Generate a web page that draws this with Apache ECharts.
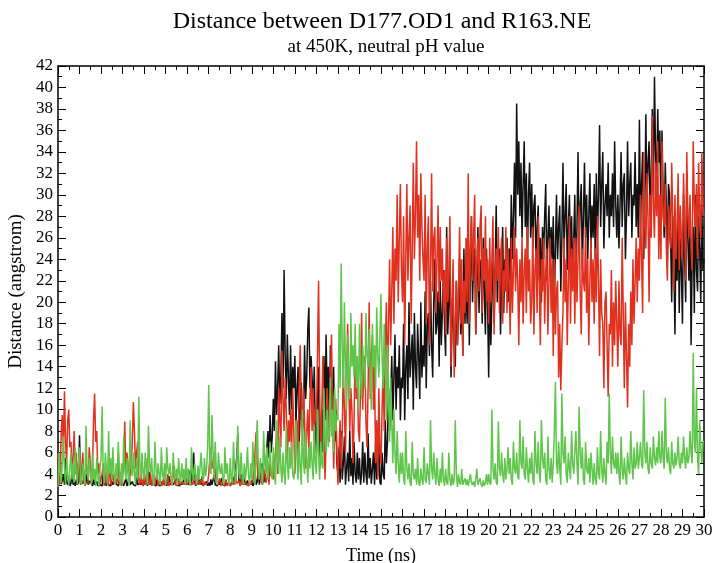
<!DOCTYPE html>
<html>
<head>
<meta charset="utf-8">
<script src="https://cdn.jsdelivr.net/npm/echarts@6/dist/echarts.min.js"></script>
<style>html,body{margin:0;padding:0;background:#fff}#c{width:712px;height:563px}</style>
</head>
<body>
<div id="c"></div>
<script>
const titleText = "Distance between D177.OD1 and R163.NE";
const subtitleText = "at 450K, neutral pH value";
const xName = "Time (ns)";
const yName = "Distance (angstrom)";
const seriesNames = ["s0", "s1", "s2"];

// one row per nanosecond (samples evenly spread across that ns), last value at t = 30
const blackRows = [
[3.0,4.5,5.8,3.1,3.4,4.0,3.0,5.5,3.2,3.0,3.6,2.9,3.1,4.2,3.0,3.3,2.9,3.5,3.0,3.2],
[7.6,3.0,3.4,3.1,3.5,2.9,3.2,4.0,3.0,2.9,3.4,3.1,2.9,3.6,3.0,3.1,3.3,2.9,3.5,3.0],
[3.1,2.9,4.6,3.0,3.2,2.9,3.8,3.0,3.1,2.9,3.3,3.0,2.9,3.5,3.1,3.0,2.9,3.4,3.0,2.9],
[3.2,2.9,3.0,3.6,2.9,3.1,4.0,3.0,2.9,3.3,3.0,3.1,2.9,3.7,3.0,2.9,3.2,3.0,3.4,2.9],
[3.1,3.0,3.5,2.9,3.2,4.2,3.0,2.9,3.4,3.0,3.1,2.9,3.6,3.0,3.1,2.9,3.3,3.0,2.9,3.2],
[3.5,2.9,3.0,3.8,3.0,2.9,3.2,3.0,2.9,3.4,4.0,3.0,3.1,2.9,3.3,3.0,2.9,3.5,3.0,2.9],
[3.6,3.0,2.9,4.4,3.0,3.1,6.0,3.2,2.9,3.4,3.0,2.9,3.5,3.0,3.8,2.9,3.1,3.0,3.3,2.9],
[3.2,2.9,3.5,3.0,2.9,3.9,3.0,3.1,2.9,3.3,3.0,2.9,3.6,3.0,3.1,2.9,3.4,3.0,2.9,3.2],
[2.9,3.1,3.8,3.0,3.1,4.5,5.5,7.8,3.5,3.2,4.0,3.0,2.9,3.6,3.0,3.1,3.4,2.9,3.2,3.0],
[3.4,2.9,3.1,3.9,3.0,3.3,4.5,3.0,3.1,4.8,5.0,3.2,3.6,4.5,6.5,8.0,5.5,9.5,6.0,7.5],
[11.0,8.0,14.5,9.5,12.0,16.0,10.5,13.0,19.0,12.0,23.0,15.0,11.0,17.0,13.0,9.5,16.0,10.0,14.0,12.0],
[15.0,8.5,12.0,14.0,7.0,10.0,12.5,8.0,9.0,16.0,11.0,13.0,17.5,19.5,12.0,15.0,13.0,10.0,14.0,8.0],
[6.0,11.0,14.0,4.5,8.0,10.0,6.0,15.0,9.0,17.0,11.0,14.0,8.0,16.0,9.0,12.0,14.0,7.0,10.0,5.0],
[4.0,6.5,3.2,8.0,3.5,5.0,7.5,3.0,4.5,6.0,3.3,8.0,3.8,5.5,3.0,7.0,4.0,3.2,6.0,3.5],
[5.5,3.0,4.0,7.0,3.2,6.0,4.0,3.0,7.8,3.6,5.5,3.1,4.5,6.0,3.0,7.0,3.5,4.0,8.0,3.2],
[3.0,6.0,4.0,3.5,9.0,5.0,7.0,12.0,8.0,11.0,15.0,9.0,13.0,17.0,10.0,14.0,12.0,16.0,9.0,13.0],
[12.0,18.0,9.0,14.0,16.0,11.0,20.0,13.0,15.0,17.0,10.0,19.0,14.0,12.0,18.0,15.0,11.0,20.0,13.0,16.0],
[14.0,21.0,12.0,18.0,19.0,15.0,22.0,16.0,13.0,20.0,24.0,17.0,18.0,21.0,14.0,22.0,16.0,19.0,23.0,18.0],
[15.0,27.0,17.0,20.0,23.0,13.0,18.0,20.0,15.5,14.0,22.0,16.0,19.0,24.0,17.0,21.0,15.0,25.0,18.0,22.0],
[18.0,26.0,16.0,22.0,28.0,20.0,24.0,25.0,17.0,21.0,27.0,19.0,23.0,24.0,18.0,26.0,21.0,17.0,25.0,20.0],
[13.0,22.0,16.0,20.0,26.0,18.0,23.0,29.0,20.0,24.0,25.0,17.0,22.0,27.0,19.0,24.0,21.0,26.0,20.0,25.0],
[22.0,30.0,24.0,28.0,33.0,26.0,38.5,30.0,35.0,28.0,33.0,26.0,31.0,35.0,27.0,32.0,24.0,30.0,33.0,26.0],
[31.0,25.0,29.0,30.0,23.0,27.0,29.0,22.0,26.0,20.0,27.0,24.0,28.0,31.0,22.0,26.0,29.0,23.0,27.0,24.0],
[28.0,20.0,25.0,30.0,24.0,27.0,29.0,21.0,26.0,33.0,25.0,28.0,31.0,23.0,27.0,30.0,24.0,28.0,22.0,26.0],
[30.0,22.0,27.0,34.0,25.0,29.0,31.0,23.0,28.0,33.0,26.0,30.0,24.0,28.0,32.0,25.0,29.0,26.0,31.0,24.0],
[32.0,26.0,30.0,36.5,27.0,31.0,34.0,25.0,29.0,31.0,28.0,33.0,26.0,30.0,28.0,32.0,27.0,35.0,29.0,26.0],
[30.0,25.0,29.0,34.0,27.0,31.0,32.0,24.0,28.0,35.0,28.0,31.0,33.0,26.0,30.0,29.0,34.0,27.0,31.0,26.0],
[37.0,27.0,31.0,34.0,24.0,29.0,37.5,29.0,33.0,35.0,28.0,32.0,38.0,30.0,41.0,34.0,30.0,38.0,33.0,36.0],
[28.0,36.0,30.0,26.0,33.0,29.0,24.0,31.0,30.0,26.0,20.0,28.0,24.0,17.0,26.0,22.0,29.0,19.0,26.0,23.0],
[18.0,30.0,24.0,20.0,32.0,26.0,22.0,28.0,16.0,24.0,27.0,19.0,30.0,23.0,21.0,28.0,25.0,20.0,29.0,23.0],
[24.0]];

const redRows = [
[6.0,3.0,3.2,8.0,9.5,6.0,11.7,7.0,5.0,9.0,10.0,6.5,7.0,4.0,5.5,8.0,4.0,6.0,3.5,5.0],
[5.5,3.0,4.5,6.0,3.2,3.0,5.0,4.5,3.1,6.5,5.0,3.5,4.0,9.0,11.5,7.0,8.0,4.0,5.0,3.2],
[3.1,4.0,5.0,2.9,3.3,4.5,3.0,3.2,5.5,3.0,2.9,4.0,3.1,3.0,3.5,3.2,6.0,3.0,4.2,2.9],
[3.0,5.0,8.9,4.0,6.0,5.0,3.2,4.0,5.0,7.0,10.7,8.0,4.5,6.0,7.0,3.5,3.0,4.0,3.2,2.9],
[4.5,3.0,3.5,5.5,3.2,3.0,4.0,2.9,3.1,3.8,3.0,3.1,4.2,2.9,3.0,3.4,2.9,3.1,3.6,2.9],
[3.2,3.0,4.0,2.9,3.1,3.5,3.0,2.9,4.8,3.0,3.1,2.9,3.6,3.0,2.9,3.3,3.0,2.9,3.4,3.0],
[3.0,3.2,4.0,2.9,3.2,3.0,2.9,3.6,3.0,3.1,4.2,3.0,2.9,3.5,3.1,2.9,3.3,3.0,2.9,3.2],
[4.0,5.5,6.5,4.5,5.0,6.0,3.5,4.5,3.0,3.2,3.6,2.9,3.1,3.4,2.9,3.0,3.5,2.9,3.1,3.0],
[2.9,3.2,3.5,3.0,2.9,4.0,3.1,3.0,3.4,2.9,3.1,3.8,3.0,2.9,3.3,3.0,3.1,2.9,3.4,3.0],
[3.1,3.5,4.5,6.0,7.9,5.0,3.5,4.0,5.0,3.2,3.0,4.5,4.0,3.2,3.5,4.6,3.0,5.0,3.8,4.0],
[3.5,5.0,6.0,8.0,4.0,12.0,9.0,6.5,15.5,11.0,8.0,13.0,10.0,5.0,9.0,7.0,10.0,6.0,12.0,8.0],
[4.0,7.0,9.0,5.5,12.0,16.0,10.0,7.0,12.0,9.0,4.5,8.0,10.0,6.0,11.0,14.0,8.0,12.0,7.0,10.0],
[9.0,15.0,22.0,12.0,5.0,10.0,15.0,8.0,3.5,7.0,12.0,9.0,7.0,13.0,17.0,10.0,4.5,8.0,11.0,6.0],
[3.0,6.0,9.0,4.5,8.0,14.0,10.0,6.0,12.0,18.0,13.0,8.0,12.0,10.0,5.0,9.0,16.0,11.0,14.0,8.0],
[7.0,12.0,19.0,10.0,14.0,15.0,9.0,6.5,12.0,20.0,11.0,15.0,17.0,10.0,14.0,5.0,9.0,3.5,12.0,6.0],
[5.0,10.0,14.0,8.0,16.0,20.0,12.0,18.0,24.0,16.0,21.0,27.0,18.0,25.0,22.0,30.0,20.0,26.0,31.0,23.0],
[20.0,28.0,16.0,24.0,31.0,22.0,26.0,29.0,18.0,25.0,33.0,24.0,28.0,35.0,26.0,30.0,22.0,32.0,27.0,24.0],
[22.0,30.0,18.0,25.0,28.0,16.0,23.0,32.0,21.0,26.0,27.0,19.0,24.0,29.0,20.0,27.0,22.0,25.0,19.0,23.0],
[17.0,26.0,20.0,23.0,28.0,14.0,20.0,24.0,13.0,18.0,22.0,16.0,21.0,27.0,18.0,24.0,15.0,22.0,19.0,26.0],
[20.0,32.0,18.0,25.0,28.0,22.0,26.0,30.0,17.0,24.0,26.0,21.0,27.0,29.0,19.0,25.0,22.0,28.0,20.0,24.0],
[18.0,26.0,20.0,24.0,28.0,17.0,22.0,25.0,22.0,27.0,19.0,24.0,26.0,18.0,23.0,21.0,27.0,19.0,25.0,22.0],
[17.0,26.0,19.0,23.0,27.0,21.0,25.0,22.0,16.0,24.0,20.0,26.0,18.0,23.0,25.0,19.0,27.0,21.0,24.0,18.0],
[20.0,27.0,17.0,23.0,25.0,19.0,28.0,22.0,16.0,24.0,21.0,26.0,18.0,23.0,25.0,17.0,22.0,26.0,19.0,24.0],
[15.0,24.0,17.0,21.0,22.0,13.0,18.0,11.8,16.0,19.0,26.0,20.0,24.0,16.0,22.0,28.0,18.0,25.0,21.0,26.0],
[18.0,26.0,20.0,24.0,29.0,21.0,17.0,25.0,22.0,21.0,27.0,19.0,24.0,16.0,22.0,26.0,20.0,24.0,18.0,25.0],
[20.0,28.0,22.0,15.0,24.0,19.0,18.0,12.0,20.0,21.0,16.0,11.2,18.0,17.0,23.0,14.0,20.0,16.0,22.0,18.0],
[14.0,22.0,17.0,16.0,26.0,19.0,12.0,20.0,15.0,10.2,18.0,14.0,21.0,16.0,24.0,18.0,22.0,26.0,20.0,25.0],
[22.0,30.0,24.0,19.0,34.0,27.0,25.0,32.0,28.0,20.0,30.0,26.0,37.4,29.0,26.0,33.0,28.0,35.0,24.0,30.0],
[24.0,35.0,28.0,27.0,31.0,25.0,22.0,29.0,26.0,25.0,33.0,28.0,21.0,30.0,24.0,27.0,32.0,23.0,29.0,26.0],
[24.0,32.0,27.0,22.0,34.0,28.0,26.0,30.0,25.0,23.0,35.0,29.0,27.0,31.0,24.0,33.0,28.0,26.0,34.0,29.0],
[28.0]];

const greenRows = [
[2.8,6.0,4.0,3.2,5.0,7.5,4.5,3.0,5.5,3.8,2.9,4.5,6.0,3.5,5.0,3.2,6.5,4.0,3.0,5.0],
[6.5,3.5,3.0,5.0,4.0,2.9,8.5,4.5,3.5,5.5,4.0,3.0,6.0,3.5,4.5,2.9,5.5,3.8,2.8,4.5],
[5.5,10.3,4.0,3.2,6.0,4.5,3.0,8.0,4.0,5.5,3.5,6.5,4.0,3.0,5.0,3.6,7.0,4.2,3.0,5.0],
[3.0,7.5,4.5,3.5,5.5,4.0,2.9,9.0,4.5,3.8,6.0,4.0,3.0,5.5,3.5,11.2,5.0,3.5,6.0,4.0],
[3.5,6.0,4.5,3.0,8.5,5.0,4.0,5.5,3.5,2.9,7.0,4.5,3.5,5.0,4.0,3.0,6.5,4.0,3.5,5.0],
[3.0,6.5,4.5,4.0,5.0,3.5,2.9,6.0,4.0,3.5,4.5,3.0,5.5,4.0,3.2,5.0,3.5,4.5,3.0,5.5],
[3.2,4.5,3.5,2.9,6.5,4.0,3.5,5.0,3.8,3.0,4.8,3.5,3.4,6.0,4.0,3.2,5.5,3.8,4.5,6.5],
[12.3,5.0,4.0,9.5,6.0,3.5,7.0,4.5,3.0,6.0,4.5,4.0,5.0,3.5,3.0,6.5,4.0,5.0,3.5,3.0],
[5.5,3.5,3.2,7.0,4.5,3.0,5.0,8.5,4.0,3.5,6.0,4.0,3.0,5.0,3.5,4.5,6.5,3.8,3.0,5.0],
[3.5,7.0,4.5,3.0,6.0,9.0,5.0,3.5,5.5,4.0,3.0,8.0,5.0,4.0,6.5,3.5,5.0,7.0,4.0,3.5],
[6.5,4.0,3.0,9.0,5.5,4.0,7.5,4.5,3.2,6.0,4.0,3.0,8.5,5.0,3.5,6.5,4.5,7.0,4.0,3.5],
[5.0,9.0,5.5,3.5,7.0,4.5,3.0,10.0,5.0,4.0,8.0,5.5,3.2,6.5,4.5,7.0,5.0,3.5,8.5,5.0],
[4.0,10.0,6.0,3.5,7.0,5.0,4.5,12.0,7.0,6.0,10.0,6.5,8.0,13.0,7.5,10.0,6.0,12.0,8.0,9.5],
[9.0,18.0,12.0,23.6,16.0,12.0,20.0,14.0,10.0,17.0,13.0,11.0,19.0,14.0,16.0,13.0,18.0,12.0,15.0,10.0],
[18.0,13.0,11.0,16.0,14.0,12.0,19.0,15.0,14.0,17.5,13.0,10.0,18.0,14.0,16.0,12.0,19.5,15.0,13.0,17.0],
[20.8,15.0,12.0,18.0,14.0,9.0,16.0,11.0,7.0,13.0,9.0,5.0,10.0,6.0,4.0,8.0,5.0,3.2,6.0,4.0],
[6.0,3.5,3.0,8.0,4.5,3.5,5.0,3.2,2.9,7.0,4.0,3.5,4.5,3.0,5.5,3.2,2.9,4.5,3.5,3.0],
[6.5,3.5,3.2,5.0,4.0,3.0,9.0,4.5,3.5,6.0,4.0,3.0,5.5,3.5,2.9,4.5,3.2,6.0,3.5,2.9],
[4.5,3.2,3.0,6.0,3.5,2.9,4.0,3.0,3.5,9.0,4.0,2.8,4.0,3.2,3.0,4.5,3.0,2.9,3.6,3.0],
[3.5,2.9,2.8,4.0,3.2,3.0,3.3,2.8,3.5,4.5,3.0,2.9,3.6,3.0,2.8,3.4,2.9,3.2,4.0,3.0],
[4.0,3.2,3.0,10.0,4.5,3.5,5.0,3.2,3.0,8.9,4.5,3.8,6.0,4.0,3.2,5.5,3.5,4.5,6.5,4.0],
[5.5,3.5,3.0,7.0,4.5,4.0,6.0,3.8,3.5,9.0,5.0,4.5,7.5,4.0,3.5,6.5,4.5,3.2,5.5,4.0],
[6.0,3.5,3.0,8.0,5.0,4.0,7.0,4.0,3.2,9.0,5.5,4.5,6.0,3.5,3.0,7.5,4.5,3.5,5.5,3.2],
[5.0,8.0,12.6,5.0,4.0,7.0,4.5,3.0,11.5,6.0,5.0,7.5,4.0,3.2,6.0,4.5,3.5,8.0,5.0,4.0],
[4.0,8.0,5.0,3.0,10.3,6.0,4.5,6.5,3.5,3.0,7.0,4.5,4.0,5.5,3.2,6.0,4.5,3.0,5.0,3.5],
[3.0,6.5,4.0,3.5,8.0,4.5,3.2,5.5,4.0,3.0,7.0,5.0,11.5,6.0,4.0,7.5,5.0,4.5,6.0,4.0],
[6.0,4.0,3.0,7.5,4.5,3.5,5.5,4.0,3.0,6.0,4.5,4.0,8.0,5.0,3.5,6.5,4.5,5.0,7.0,4.5],
[5.5,7.0,5.0,4.5,11.8,6.0,5.0,7.0,4.5,4.0,6.5,5.0,4.5,7.5,5.5,4.8,6.5,5.0,8.0,5.5],
[5.0,8.0,5.5,4.5,11.1,6.0,5.0,6.5,4.5,4.0,7.0,5.0,4.5,6.0,4.8,5.5,7.5,5.0,4.5,6.0],
[5.0,7.5,5.5,4.5,6.5,5.0,5.5,8.0,6.0,5.0,15.3,7.0,6.0,12.0,5.5,4.0,9.0,6.5,5.0,7.0],
[7.0]];

const colors = ["#111111", "#e0301e", "#5fc64b"];
const FONT = "Liberation Serif";

// row k covers time k .. k+1 ns
function toPairs(rows) {
  const out = [];
  rows.forEach((row, k) => {
    row.forEach((v, j) => out.push([k + j / row.length, v]));
  });
  return out;
}

const chart = echarts.init(document.getElementById('c'), null, {renderer: 'canvas'});

const axisCommon = {
  axisLine: {show: true, onZero: false, lineStyle: {color: '#000', width: 1.5}},
  axisTick: {show: true, inside: true, length: 8, lineStyle: {color: '#000', width: 1}},
  minorTick: {show: true, splitNumber: 2, length: 4, lineStyle: {color: '#000', width: 1}},
  splitLine: {show: false},
  minorSplitLine: {show: false}
};

const option = {
  animation: false,
  backgroundColor: '#fff',
  title: [{
    text: titleText,
    left: 377, top: 5, textAlign: 'center',
    textStyle: {fontFamily: FONT, fontSize: 24, fontWeight: 'normal', color: '#000'}
  }, {
    text: subtitleText,
    left: 381, top: 33, textAlign: 'center',
    textStyle: {fontFamily: FONT, fontSize: 19, fontWeight: 'normal', color: '#000'}
  }],
  grid: {left: 58, right: 8, top: 66, bottom: 46, containLabel: false, outerBoundsMode: 'none'},
  xAxis: [Object.assign({
    type: 'value', min: 0, max: 30, interval: 1, position: 'bottom',
    name: xName, nameLocation: 'middle', nameGap: 30,
    nameTextStyle: {fontFamily: FONT, fontSize: 18, color: '#000'},
    axisLabel: {fontFamily: FONT, fontSize: 17, color: '#000', margin: 5}
  }, axisCommon), Object.assign({
    type: 'value', min: 0, max: 30, interval: 1, position: 'top',
    axisLabel: {show: false}
  }, axisCommon)],
  yAxis: [Object.assign({
    type: 'value', min: 0, max: 42, interval: 2, position: 'left',
    name: yName, nameLocation: 'middle', nameGap: 31,
    nameTextStyle: {fontFamily: FONT, fontSize: 19, color: '#000'},
    axisLabel: {fontFamily: FONT, fontSize: 17, color: '#000', margin: 5}
  }, axisCommon), Object.assign({
    type: 'value', min: 0, max: 42, interval: 2, position: 'right',
    axisLabel: {show: false}
  }, axisCommon)],
  series: [blackRows, redRows, greenRows].map((rows, k) => ({
    name: seriesNames[k],
    type: 'line',
    xAxisIndex: 0, yAxisIndex: 0,
    data: toPairs(rows),
    showSymbol: false,
    symbol: 'none',
    lineStyle: {color: colors[k], width: 1.5},
    z: 2 + k
  }))
};
chart.setOption(option);
</script>
</body>
</html>
